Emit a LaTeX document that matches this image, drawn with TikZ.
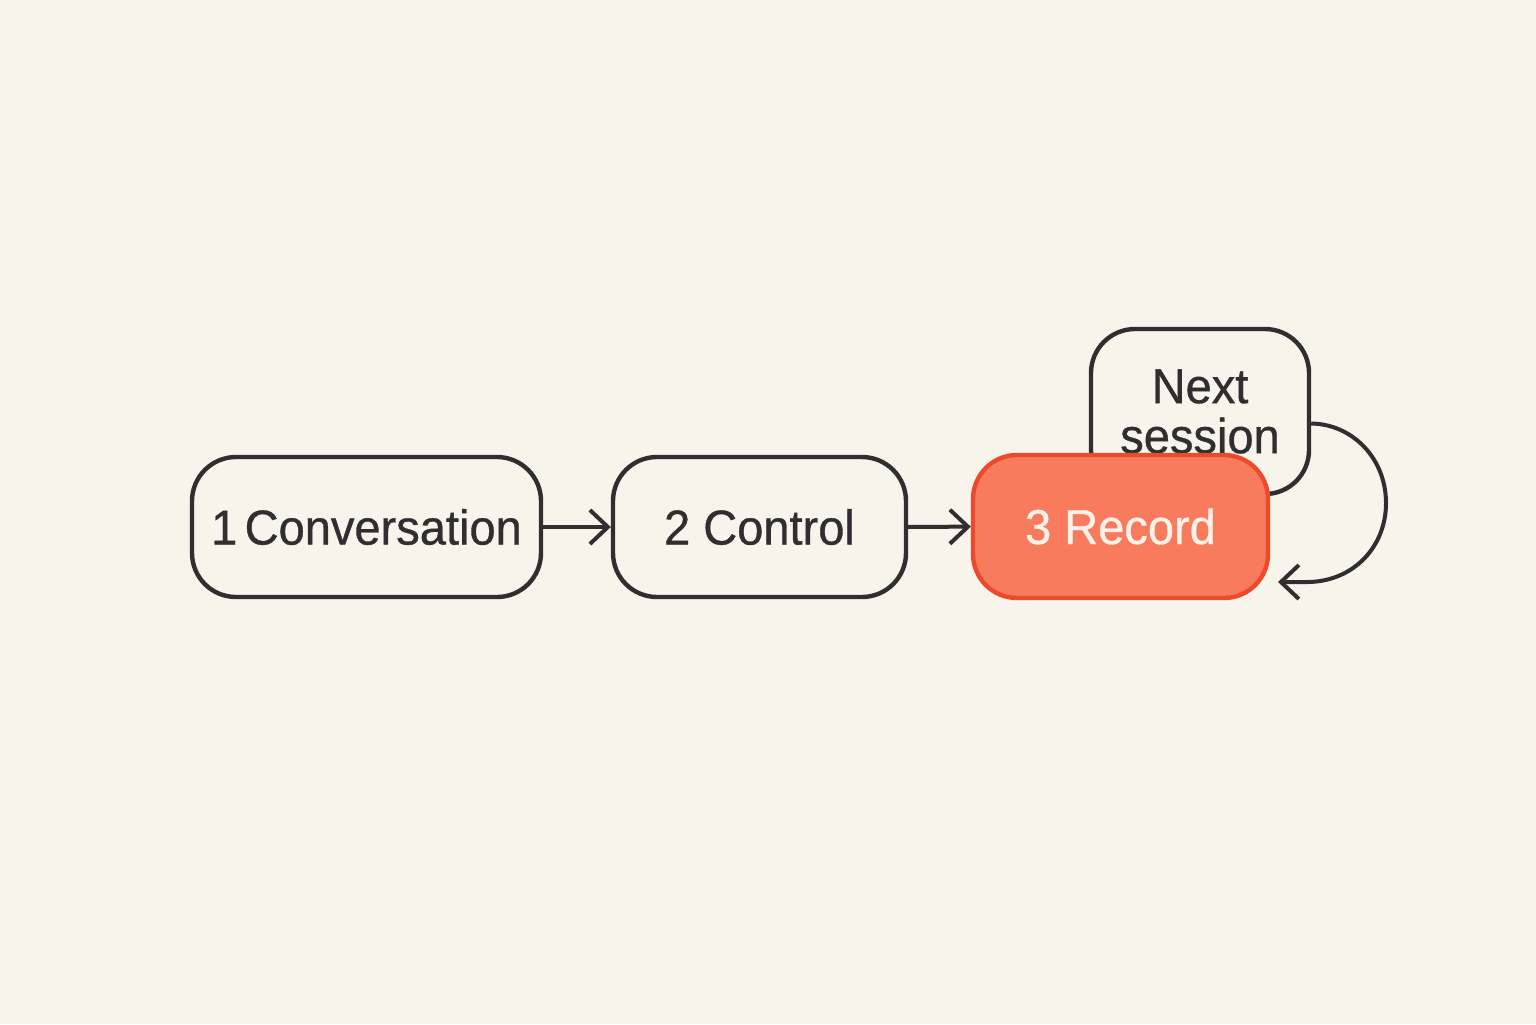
\documentclass[tikz,border=0pt]{standalone}
\usepackage{fontspec}
\setmainfont{Liberation Sans}[FakeBold=0.7,FakeStretch=0.96]
\usetikzlibrary{arrows.meta}
\definecolor{bg}{HTML}{F7F4EC}
\definecolor{ink}{HTML}{2F2F2F}
\definecolor{redfill}{HTML}{F97B5D}
\definecolor{redline}{HTML}{EC4A2B}
\definecolor{redtext}{HTML}{FBF2EA}
\tikzset{
  stepbox/.style={draw=ink, line width=2.2pt, rounded corners=22pt, fill=bg,
    font=\fontsize{24.5}{25}\selectfont, text=ink, align=center, inner sep=0pt},
  hotbox/.style={stepbox, draw=redline, fill=redfill, text=redtext},
  flow/.style={draw=ink, line width=2pt, -{Straight Barb[length=9pt,width=17pt,line width=2pt]}}
}
\begin{document}
\begin{tikzpicture}[x=0.5pt,y=-0.5pt]
\fill[bg] (0,0) rectangle (1536,1024);
\useasboundingbox (0,0) rectangle (1536,1024);
\node[stepbox, minimum width=174.5pt, minimum height=70pt] (c1) at (366.5,527) {1\hspace{0.15em}Conversation};
\node[stepbox, minimum width=146.5pt, minimum height=70pt] (c2) at (759.5,527) {2 Control};
\node[stepbox, minimum width=109pt, minimum height=82.5pt] (ns) at (1200,411.5) {Next\\session};
\node[hotbox, minimum width=147.5pt, minimum height=71.5pt] (c3) at (1120.5,526.5) {3 Record};
\coordinate (ret) at (1278,582);
\draw[flow] (c1) -- (c2);
\draw[flow] (c2) -- (c3);
\draw[flow] ([yshift=-6pt]ns.east) .. controls (1352,424) and (1386,458) .. (1386,503)
   .. controls (1386,548) and (1352,582) .. (1307,582) -- (ret);
\end{tikzpicture}
\end{document}
